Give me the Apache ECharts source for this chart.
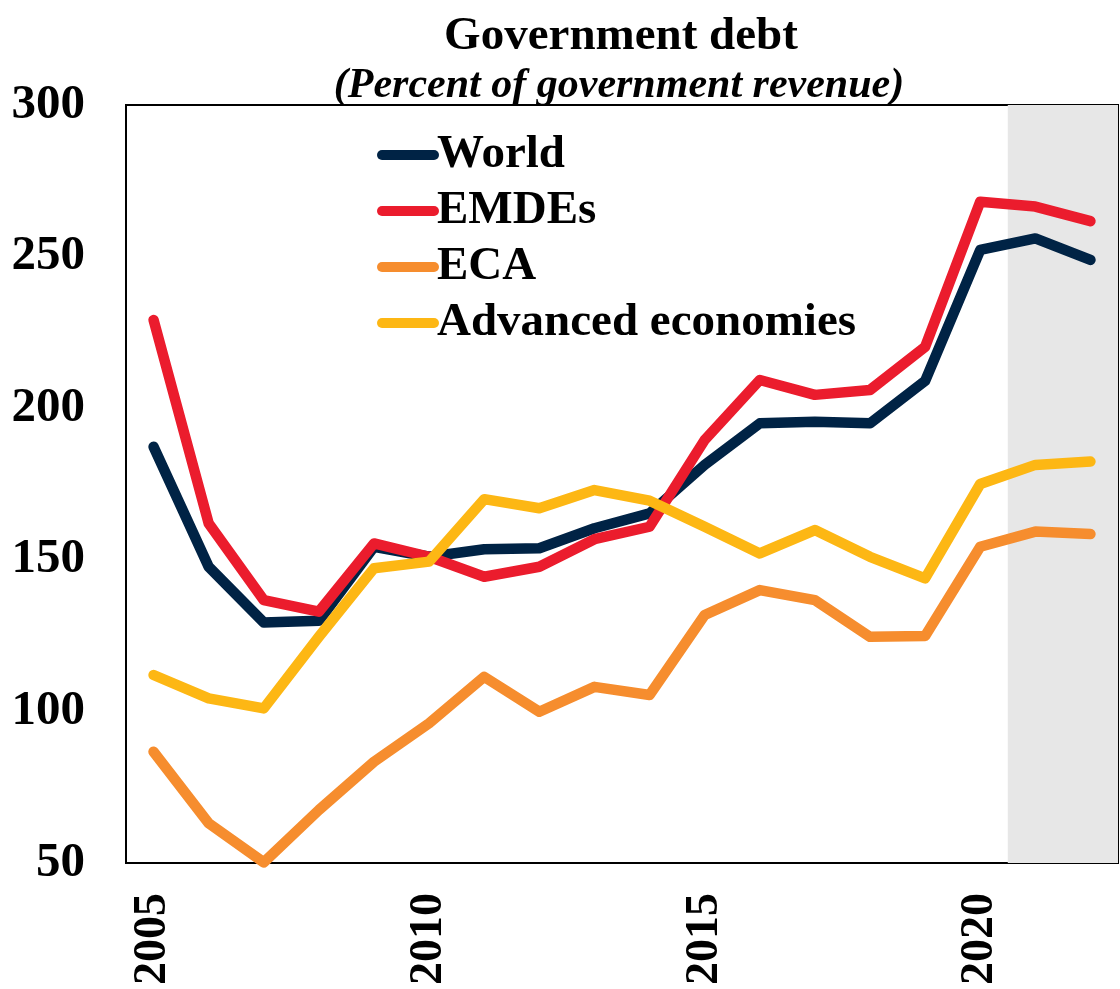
<!DOCTYPE html>
<html>
<head>
<meta charset="utf-8">
<script src="https://cdn.jsdelivr.net/npm/echarts@6/dist/echarts.min.js"></script>
<style>
html,body{margin:0;padding:0;background:#fff;}
#chart{width:1120px;height:989px;}
</style>
</head>
<body>
<div id="chart"></div>
<script>
const years = ['2005','2006','2007','2008','2009','2010','2011','2012','2013','2014','2015','2016','2017','2018','2019','2020','2021','2022'];
const world = [187.3,147.7,129.3,129.9,154.3,151.0,153.5,153.8,160.4,165.3,181.3,195.0,195.5,195.0,209.0,252.2,256.0,248.9];
const emdes = [229.1,162.0,136.7,132.9,155.4,151.0,144.4,147.7,156.8,160.9,189.5,209.3,204.4,206.0,220.2,268.1,266.5,261.7];
const eca = [86.7,63.1,50.2,67.5,83.4,96.1,111.4,99.9,108.1,105.4,131.8,140.0,136.7,124.6,124.9,154.3,159.3,158.5];
const advanced = [112.0,104.3,101.0,124.6,147.2,149.4,170.0,167.0,173.0,169.5,160.9,152.1,159.8,151.0,143.9,175.0,181.3,182.4];
const seriesNames = ['World','EMDEs','ECA','Advanced economies'];
const shadeFrom = '2021';
const shadeTo = '2022';
const yTicks = {min:50, max:300, step:50};

const FONT = '"Liberation Serif","Times New Roman",serif';
const colors = ['#002345','#EB1C2D','#F68D2E','#FDB714'];
const pill = 'path://M5,0 L57,0 A5,5 0 0 1 57,10 L5,10 A5,5 0 0 1 5,0 Z';

const chart = echarts.init(document.getElementById('chart'), null, {renderer:'canvas'});
const lineSeries = [world, emdes, eca, advanced].map((d,i)=>({
  name: seriesNames[i],
  type: 'line',
  data: d,
  symbol: 'none',
  z: 3 + i,
  lineStyle: {color: colors[i], width: 10.5, cap: 'round', join: 'round'},
  itemStyle: {color: colors[i]}
}));

chart.setOption({
  animation: false,
  backgroundColor: '#fff',
  title: [
    {text: 'Government debt', left: 616, top: 8, textAlign: 'center',
     textStyle: {fontFamily: FONT, fontWeight: 'bold', fontSize: 47, color: '#000'}},
    {text: '(Percent of government revenue)', left: 614, top: 60, textAlign: 'center',
     textStyle: {fontFamily: FONT, fontWeight: 'bold', fontStyle: 'italic', fontSize: 42, color: '#000'}}
  ],
  legend: {
    data: seriesNames,
    orient: 'vertical',
    left: 372,
    top: 126,
    itemWidth: 62,
    itemHeight: 10,
    itemGap: 8,
    icon: pill,
    textStyle: {fontFamily: FONT, fontWeight: 'bold', fontSize: 47, color: '#000', lineHeight: 48, padding: [0,0,0,-7]}
  },
  grid: {left: 126, top: 105, right: 2, bottom: 126, show: true, borderColor: '#000', borderWidth: 2, backgroundColor: 'transparent'},
  xAxis: [
    {type: 'category', data: years, boundaryGap: true,
     axisLine: {show: true, lineStyle: {color: '#000', width: 2}},
     axisTick: {show: false},
     axisLabel: {interval: 4, rotate: 90, margin: 30, fontFamily: FONT, fontWeight: 'bold', fontSize: 46, color: '#000'},
     splitLine: {show: false}},
    {type: 'value', min: -0.5, max: years.length - 0.5, show: false}
  ],
  yAxis: {
    type: 'value', min: yTicks.min, max: yTicks.max, interval: yTicks.step,
    axisLine: {show: false}, axisTick: {show: false}, splitLine: {show: false},
    axisLabel: {margin: 41, fontFamily: FONT, fontWeight: 'bold', fontSize: 49, color: '#000'}
  },
  series: [
    {type: 'line', xAxisIndex: 1, data: [], z: 1, silent: true,
     markArea: {silent: true, itemStyle: {color: '#E7E7E7'},
       data: [[{xAxis: years.indexOf(shadeFrom) - 0.5}, {xAxis: years.indexOf(shadeTo) + 0.5}]]}}
  ].concat(lineSeries)
});
</script>
</body>
</html>
